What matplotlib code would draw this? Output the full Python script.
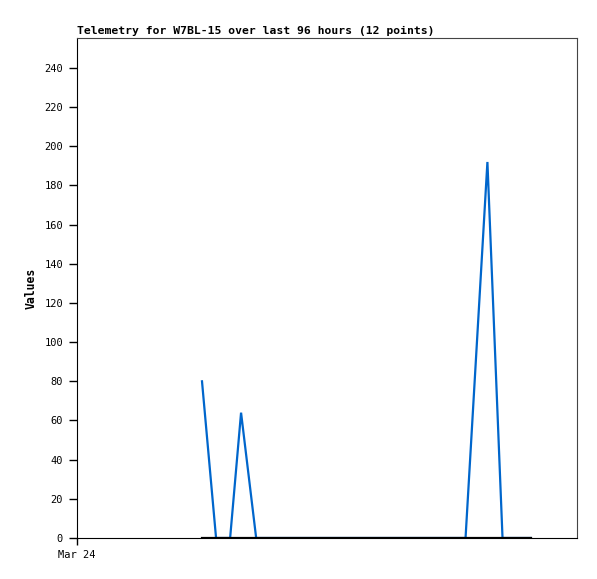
import matplotlib
matplotlib.use("Agg")
import matplotlib.pyplot as plt

# hours since Mar 24 00:00
hours = [24.0, 26.7, 29.4, 31.5, 34.4, 48.0, 62.0, 74.6, 78.8, 81.7, 84.4, 87.1]
values = [80, 0, 0, 64, 0, 0, 0, 0, 192, 0, 0, 0]
baseline = [0] * len(hours)
tick_pos = [0]
tick_labels = ["Mar 24"]

plt.rcParams['font.family'] = ['DejaVu Sans Mono']
plt.rcParams['font.size'] = 7.5

fig = plt.figure(figsize=(5.97, 5.79), dpi=100)
ax = fig.add_axes([77 / 597, 41 / 579, 500 / 597, 500 / 579])

ax.plot(hours, values, color="#0066cc", lw=1.6, solid_joinstyle="miter")
ax.plot(hours, baseline, color="black", lw=1.6)

ax.set_xlim(0, 96)
ax.set_ylim(0, 255.3)
ax.set_yticks(range(0, 241, 20))
ax.set_xticks(tick_pos)
ax.set_xticklabels(tick_labels)
ax.tick_params(axis="y", length=6, width=1, color="black", pad=4)
ax.tick_params(axis="x", length=5, width=1, color="black", pad=4)

ax.spines["left"].set_color("black")
ax.spines["bottom"].set_color("black")
ax.spines["top"].set_color("#444444")
ax.spines["right"].set_color("#444444")

ax.set_ylabel("Values", fontweight="bold", fontsize=8.3, labelpad=5)
ax.set_title("Telemetry for W7BL-15 over last 96 hours (12 points)",
             loc="left", fontweight="bold", fontsize=8.2, pad=3)

fig.savefig("out.png", dpi=100)
